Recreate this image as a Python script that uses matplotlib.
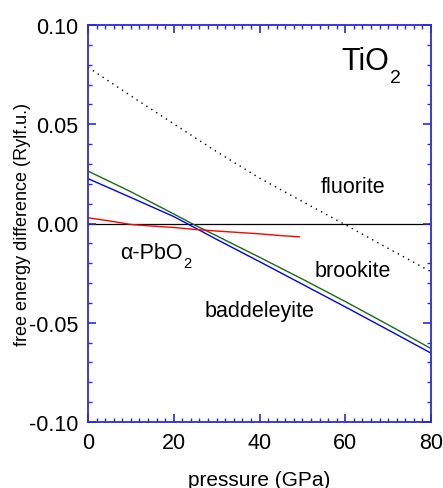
import matplotlib
matplotlib.use("Agg")
import matplotlib.pyplot as plt
from matplotlib.ticker import MultipleLocator
from matplotlib.transforms import offset_copy

plt.rcParams['font.family'] = ['Liberation Sans', 'DejaVu Sans']

# pressure grid (GPa) and free energy differences (Ry/f.u.) relative to rutile
pressure = [0, 10, 20, 25, 30, 40, 50, 60, 70, 80]
brookite = [0.0264, 0.0160, 0.0048, -0.0009, -0.0062, -0.0170, -0.0280, -0.0393, -0.0510, -0.0630]
baddeleyite = [0.0226, 0.0131, 0.0035, -0.0022, -0.0080, -0.0192, -0.0306, -0.0420, -0.0536, -0.0653]

pressure_fl = [0, 10, 20, 30, 40, 50, 60, 70, 80]
fluorite = [0.0787, 0.0643, 0.0502, 0.0362, 0.0229, 0.0111, -0.0006, -0.0125, -0.0243]

pressure_pb = [0, 5, 10, 15, 20, 25, 30, 35, 40, 45, 49.3]
alpha_pbo2 = [0.0029, 0.0013, -0.0005, -0.0013, -0.0020, -0.0030, -0.0038, -0.0045, -0.0052, -0.0061, -0.0067]

fig = plt.figure(figsize=(4.43, 4.89), dpi=100)
ax = fig.add_axes([88 / 443, 1 - 423 / 489, 343 / 443, 397 / 489])

ax.axhline(0.0, color='black', lw=0.9, zorder=1)
ax.plot(pressure_fl, fluorite, color='black', lw=1.0, linestyle=(0, (1, 3.2)))
ax.plot(pressure, brookite, color='#1a6b1a', lw=1.0)
ax.plot(pressure, baddeleyite, color='#0000ff', lw=1.0)
ax.plot(pressure_pb, alpha_pbo2, color='#ff0000', lw=1.0)

ax.set_xlim(0, 80)
ax.set_ylim(-0.10, 0.10)
ax.xaxis.set_major_locator(MultipleLocator(20))
ax.xaxis.set_minor_locator(MultipleLocator(2))
ax.yaxis.set_minor_locator(MultipleLocator(0.01))
ax.set_yticks([-0.10, -0.05, 0.0, 0.05, 0.10])
ax.set_yticklabels(['-0.10', '-0.05', '0.00', '0.05', '0.10'])

spine_color = '#2a2ae0'
for s in ax.spines.values():
    s.set_color(spine_color)
    s.set_linewidth(1.3)
ax.tick_params(which='both', direction='in', top=True, right=True,
               color=spine_color, labelsize=15.5, labelcolor='black')
ax.tick_params(which='major', length=6, width=1.2, pad=7)
ax.tick_params(which='minor', length=3, width=1.0)

ax.set_xlabel('pressure (GPa)', fontsize=15, va='top')
ax.xaxis.set_label_coords(0.5, (423 - 471) / 397)
ax.set_ylabel('free energy difference (Rylf.u.)', fontsize=13)
ax.yaxis.set_label_coords((31 - 88) / 343, 0.5)


def label_with_subscript(x, y, main, sub, size, sub_size, drop):
    """Draw `main` at (x, y) and a lowered subscript right after it."""
    t = ax.text(x, y, main, fontsize=size, ha='left', va='baseline')
    fig.canvas.draw()
    bb = t.get_window_extent()
    _, y_disp = ax.transData.transform((x, y))
    x_end, _ = ax.transData.inverted().transform((bb.x1, y_disp))
    tr = offset_copy(ax.transData, fig=fig, x=0.5, y=-drop, units='points')
    ax.text(x_end, y, sub, fontsize=sub_size, ha='left', va='baseline', transform=tr)


label_with_subscript(59.2, 0.0779, 'TiO', '2', 22, 14, 9.5)
label_with_subscript(7.5, -0.0176, '\u03b1-PbO', '2', 15.5, 10.5, 6)
ax.text(54.3, 0.0159, 'fluorite', fontsize=15.5, ha='left', va='baseline')
ax.text(52.8, -0.0263, 'brookite', fontsize=15.5, ha='left', va='baseline')
ax.text(27.3, -0.0464, 'baddeleyite', fontsize=15.5, ha='left', va='baseline')

fig.savefig('out.png', dpi=100)
